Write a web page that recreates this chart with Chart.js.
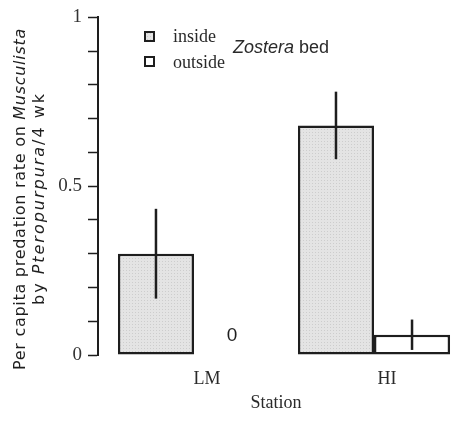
<!DOCTYPE html>
<html>
<head>
<meta charset="utf-8">
<script src="https://cdn.jsdelivr.net/npm/chart.js@4.4.1/dist/chart.umd.min.js"></script>
<style>
  html, body { margin: 0; padding: 0; background: #fff; overflow: hidden; }
  #wrap { width: 454px; height: 423px; }
</style>
</head>
<body>
<div id="wrap"><canvas id="chart" width="454" height="423"></canvas></div>
<script>
"use strict";

/* ─── Data ─────────────────────────────────────────────────────────────── */
const STATIONS     = ["LM", "HI"];
const INSIDE_MEAN  = [0.30, 0.68];
const INSIDE_ERR   = [0.133, 0.10];
const OUTSIDE_MEAN = [0, 0.06];
const OUTSIDE_ERR  = [0, 0.045];
const SERIES       = ["inside", "outside"];
const LABELLED_Y   = [0, 0.5, 1];   // minor ticks every 0.1, labels only here

const Y_TITLE_1 = [["Per capita predation rate on ", false], ["Musculista", true]];
const Y_TITLE_2 = [["by ", false], ["Pteropurpura", true], ["/4 wk", false]];
const X_TITLE   = "Station";

const INK = "#1e1e1e";
const SERIF = "'Liberation Serif', 'DejaVu Serif', serif";
const SANS  = "'DejaVu Sans', 'Liberation Sans', sans-serif";
const ARIAL = "'Liberation Sans', Arial, sans-serif";

/* Light stippled grey like the printed bars */
function stipple() {
  const c = document.createElement("canvas");
  c.width = 3; c.height = 3;
  const g = c.getContext("2d");
  g.fillStyle = "#e4e4e4";
  g.fillRect(0, 0, 3, 3);
  g.fillStyle = "#cdcdcd";
  g.fillRect(0, 0, 1, 1);
  return g.createPattern(c, "repeat");
}
const STIPPLE = stipple();

/* ─── Plugins ──────────────────────────────────────────────────────────── */

// vertical error lines, plus the "0" note where a mean is zero
const errorBars = {
  id: "errorBars",
  afterDatasetsDraw(chart) {
    const { ctx } = chart;
    const yS = chart.scales.y;
    chart.data.datasets.forEach((ds, di) => {
      const meta = chart.getDatasetMeta(di);
      meta.data.forEach((bar, i) => {
        const v = ds.data[i].y;
        const e = ds.err[i];
        ctx.save();
        if (v === 0) {
          ctx.fillStyle = INK;
          ctx.font = "19px " + ARIAL;
          ctx.textAlign = "center";
          ctx.textBaseline = "alphabetic";
          ctx.fillText("0", bar.x, yS.getPixelForValue(0) - 14);
        } else if (e > 0) {
          ctx.strokeStyle = INK;
          ctx.lineWidth = 2.5;
          ctx.beginPath();
          ctx.moveTo(bar.x, yS.getPixelForValue(Math.max(0, v - e)));
          ctx.lineTo(bar.x, yS.getPixelForValue(v + e));
          ctx.stroke();
        }
        ctx.restore();
      });
    });
  },
};

// rotated y title line with italic genus names, stretched to its extent
function drawRotatedLine(ctx, parts, x, yBottom, yTop, size) {
  ctx.save();
  ctx.translate(x, yBottom);
  ctx.rotate(-Math.PI / 2);
  ctx.fillStyle = INK;
  ctx.textBaseline = "alphabetic";
  ctx.letterSpacing = "0px";
  const fontOf = p => (p[1] ? "italic " : "") + size + "px " + SANS;
  const widths = parts.map(p => { ctx.font = fontOf(p); return ctx.measureText(p[0]).width; });
  const chars = parts.reduce((a, p) => a + p[0].length, 0);
  const natural = widths.reduce((a, b) => a + b, 0);
  const spacing = (yBottom - yTop - natural) / chars;
  ctx.letterSpacing = spacing + "px";
  let cx = 0;
  parts.forEach((p, i) => {
    ctx.font = fontOf(p);
    ctx.fillText(p[0], cx, 0);
    cx += widths[i] + spacing * p[0].length;
  });
  ctx.restore();
}

const annotations = {
  id: "annotations",
  afterDraw(chart) {
    const { ctx } = chart;
    drawRotatedLine(ctx, Y_TITLE_1, 25, 370, 28, 16);
    drawRotatedLine(ctx, Y_TITLE_2, 44, 305, 92, 16);

    // legend boxes
    const boxes = [[145, 32, STIPPLE], [145, 57, "#fff"]];
    boxes.forEach(([bx, by, fill]) => {
      ctx.save();
      ctx.fillStyle = fill;
      ctx.fillRect(bx, by, 9, 9);
      ctx.strokeStyle = INK;
      ctx.lineWidth = 2;
      ctx.strokeRect(bx, by, 9, 9);
      ctx.restore();
    });
    ctx.save();
    ctx.fillStyle = "#2a2a2a";
    ctx.font = "18px " + SERIF;
    ctx.textBaseline = "alphabetic";
    ctx.fillText(SERIES[0], 173, 42);
    ctx.fillText(SERIES[1], 173, 68);
    ctx.font = "italic 18px " + ARIAL;
    ctx.fillText("Zostera", 233, 53);
    const zw = ctx.measureText("Zostera ").width;
    ctx.font = "18px " + ARIAL;
    ctx.fillText("bed", 233 + zw, 53);
    ctx.restore();
  },
};

/* ─── Chart ────────────────────────────────────────────────────────────── */
const toPoints = vals => STATIONS.map((s, i) => ({ x: i, y: vals[i] }));

new Chart(document.getElementById("chart").getContext("2d"), {
  type: "bar",
  data: {
    datasets: [
      {
        label: SERIES[0],
        data: toPoints(INSIDE_MEAN),
        err: INSIDE_ERR,
        backgroundColor: STIPPLE,
        borderColor: INK,
        borderWidth: 2.5,
        borderSkipped: false,
      },
      {
        label: SERIES[1],
        data: toPoints(OUTSIDE_MEAN),
        err: OUTSIDE_ERR,
        backgroundColor: "#fff",
        borderColor: INK,
        borderWidth: c => (c.raw && c.raw.y === 0 ? 0 : 2.5),
        borderSkipped: false,
      },
    ],
  },
  options: {
    responsive: false,
    animation: false,
    categoryPercentage: 0.845,
    barPercentage: 1.0,
    layout: { padding: { top: 14, right: 0, left: 0, bottom: 0 } },
    plugins: { legend: { display: false }, tooltip: { enabled: false } },
    scales: {
      x: {
        type: "linear",
        offset: false,
        min: -0.5333,
        max: 1.4444,
        afterBuildTicks: s => { s.ticks = STATIONS.map((_, i) => ({ value: i })); },
        afterFit: s => { s.height = 68; },
        ticks: {
          callback: v => STATIONS[v],
          labelOffset: 13,
          padding: 13,
          color: "#2a2a2a",
          font: { family: SERIF, size: 18 },
        },
        grid: { display: false, drawTicks: false },
        border: { display: false },
        title: {
          display: true,
          text: X_TITLE,
          color: "#2a2a2a",
          font: { family: SERIF, size: 18 },
          padding: { top: 0, bottom: 9 },
        },
      },
      y: {
        min: 0,
        max: 1,
        afterFit: s => { s.width = 98; },
        ticks: {
          stepSize: 0.1,
          padding: 6,
          color: "#333",
          font: { family: SERIF, size: 19 },
          callback: v => {
            const r = Math.round(v * 10) / 10;
            return LABELLED_Y.includes(r) ? String(r) : "";
          },
        },
        grid: {
          drawOnChartArea: false,
          drawTicks: true,
          tickLength: 10,
          tickColor: INK,
          tickWidth: 1.5,
        },
        border: { display: true, color: INK, width: 2 },
      },
    },
  },
  plugins: [errorBars, annotations],
});
</script>
</body>
</html>
